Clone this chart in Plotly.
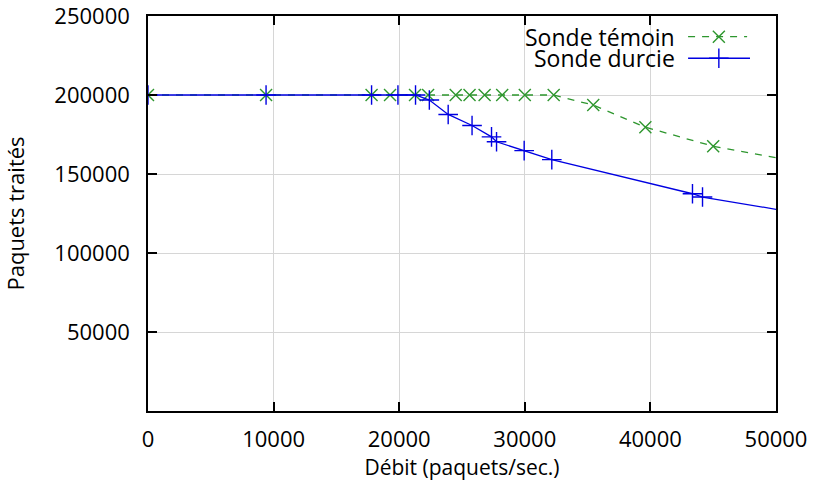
import plotly.graph_objects as go

# Sonde témoin (green, dashed, x markers)
temoin_x = [0, 9400, 17800, 19270, 21260, 22300, 24500, 25600, 26800, 28200,
            30000, 32300, 35450, 39600, 45000, 53000]
temoin_y = [200000, 200000, 200000, 200000, 200000, 200000, 200000, 200000,
            200000, 200000, 200000, 200000, 193600, 179600, 167600, 156000]

# Sonde durcie (blue, solid, + markers)
durcie_x = [0, 9400, 17800, 19900, 21300, 22400, 23900, 25800, 27350, 27750,
            29950, 32150, 43350, 44150, 53000]
durcie_y = [200000, 200000, 200000, 200000, 200000, 196800, 187700, 180700,
            173500, 170400, 164800, 159100, 137500, 135400, 123700]

x_ticks = [0, 10000, 20000, 30000, 40000, 50000]
y_ticks = [50000, 100000, 150000, 200000, 250000]

series_names = ["Sonde témoin", "Sonde durcie"]
GREEN = "rgb(46,150,46)"
BLUE = "rgb(0,0,225)"
FONT = "Open Sans"

fig = go.Figure()
fig.add_trace(go.Scatter(
    x=temoin_x, y=temoin_y, mode="lines+markers", name=series_names[0],
    line=dict(color=GREEN, width=1.3, dash="7px,7px"),
    marker=dict(symbol="x-thin", size=12, line=dict(color=GREEN, width=1.4)),
    showlegend=False))
fig.add_trace(go.Scatter(
    x=durcie_x, y=durcie_y, mode="lines+markers", name=series_names[1],
    line=dict(color=BLUE, width=1.3),
    marker=dict(symbol="cross-thin", size=14, line=dict(color=BLUE, width=1.4)),
    showlegend=False))

# gnuplot-style key: text left, sample right (drawn on an overlay 0..1 axis)
leg_y = [0.9476, 0.893]
fig.add_trace(go.Scatter(x=[0.860, 0.954], y=[leg_y[0]] * 2, xaxis="x2", yaxis="y2",
                         mode="lines", line=dict(color=GREEN, width=1.3, dash="7px,7px"),
                         showlegend=False, hoverinfo="skip"))
fig.add_trace(go.Scatter(x=[0.909], y=[leg_y[0]], xaxis="x2", yaxis="y2", mode="markers",
                         marker=dict(symbol="x-thin", size=12, line=dict(color=GREEN, width=1.4)),
                         showlegend=False, hoverinfo="skip"))
fig.add_trace(go.Scatter(x=[0.860, 0.9586], y=[leg_y[1]] * 2, xaxis="x2", yaxis="y2",
                         mode="lines", line=dict(color=BLUE, width=1.3),
                         showlegend=False, hoverinfo="skip"))
fig.add_trace(go.Scatter(x=[0.909], y=[leg_y[1]], xaxis="x2", yaxis="y2", mode="markers",
                         marker=dict(symbol="cross-thin", size=14, line=dict(color=BLUE, width=1.4)),
                         showlegend=False, hoverinfo="skip"))

for name, yy in zip(series_names, leg_y):
    fig.add_annotation(text=name, x=0.8408, y=yy, xref="paper", yref="paper",
                       xanchor="right", yanchor="middle", showarrow=False, borderpad=0,
                       font=dict(family=FONT, size=23, color="black"))

fig.add_shape(type="rect", xref="paper", yref="paper", x0=0.573, x1=0.982,
              y0=0.863, y1=0.98, fillcolor="white", line=dict(width=0), layer="between")

axis_common = dict(
    showline=True, linecolor="black", linewidth=1.5, mirror="ticks",
    ticks="inside", ticklen=9, tickwidth=1.5, tickcolor="black",
    showgrid=True, gridcolor="#d6d6d6", gridwidth=1, zeroline=False,
    tickfont=dict(family=FONT, size=22, color="black"),
    ticklabeloverflow="allow",
)

fig.update_layout(
    width=815, height=481,
    margin=dict(l=148, r=39, t=16, b=70, autoexpand=False),
    paper_bgcolor="white", plot_bgcolor="white",
    font=dict(family=FONT, color="black"),
    xaxis=dict(range=[0, 50000], tickvals=x_ticks, ticktext=[str(v) for v in x_ticks],
               title=dict(text="Débit (paquets/sec.)", font=dict(family=FONT, size=21), standoff=9),
               ticklabelstandoff=8, **axis_common),
    yaxis=dict(range=[0, 250000], tickvals=y_ticks, ticktext=[str(v) for v in y_ticks],
               title=dict(text="Paquets traités", font=dict(family=FONT, size=22), standoff=26),
               ticklabelstandoff=12, **axis_common),
    xaxis2=dict(overlaying="x", range=[0, 1], visible=False, fixedrange=True),
    yaxis2=dict(overlaying="y", range=[0, 1], visible=False, fixedrange=True),
    showlegend=False,
)

fig.write_html("out.html", config={"displayModeBar": False},
               post_script="document.body.style.margin='0';")
